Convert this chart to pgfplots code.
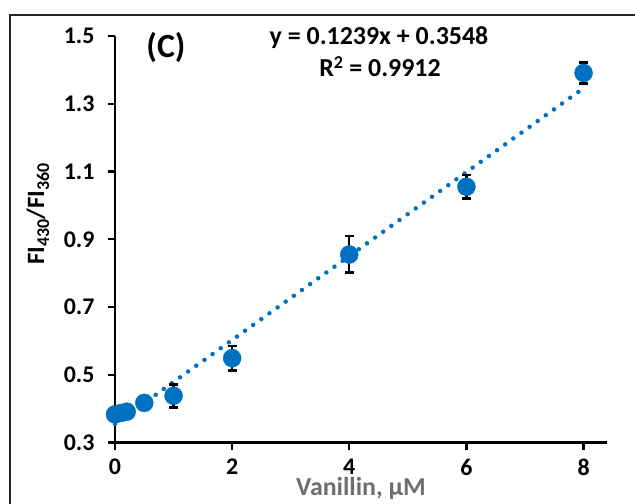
\documentclass[border=0pt]{standalone}
\usepackage{pgfplots}
\pgfplotsset{compat=1.18}
\usepackage{fontspec}
\setmainfont{Carlito}
\definecolor{xlblue}{HTML}{0070C0}
\definecolor{lblgray}{HTML}{6E6E6E}
\newcommand{\sub}[1]{\raisebox{-5bp}{\fontsize{18}{20}\selectfont #1}}
\begin{document}
\begin{tikzpicture}
\path[use as bounding box] (0,0) rectangle (635bp,504bp);
\draw[line width=1.6bp, black!85] (10bp,-5bp) -- (10bp,489bp) -- (640bp,489bp);
\begin{axis}[
  at={(115bp,61.5bp)}, anchor=origin,
  scale only axis,
  width=492bp, height=406.5bp,
  xmin=0, xmax=8.4, ymin=0.3, ymax=1.5,
  axis x line=bottom, axis y line=left,
  axis line style={line width=2.2bp, -},
  xtick={0,2,4,6,8},
  ytick={0.3,0.5,0.7,0.9,1.1,1.3,1.5},
  tick align=outside,
  major tick length=7bp,
  tick style={line width=2.2bp, black},
  /pgf/number format/assume math mode=true,
  yticklabel style={/pgf/number format/fixed, /pgf/number format/fixed zerofill, /pgf/number format/precision=1, xshift=-10bp},
  xticklabel style={yshift=-8bp, inner sep=1bp},
  ticklabel style={font=\bfseries\fontsize{24}{28}\selectfont},
  clip=false,
  xlabel={Vanillin, µM},
  xlabel style={font=\bfseries\fontsize{26}{30}\selectfont, text=lblgray, at={(axis description cs:0.5,0)}, anchor=base, inner sep=0bp, yshift=-53bp},
  ylabel={FI\sub{430}/FI\sub{360}},
  ylabel style={font=\bfseries\fontsize{25}{30}\selectfont, at={(axis description cs:-0.1565,0.562)}, anchor=center},
]
\addplot[xlblue, line width=4.5bp, line cap=round, dash pattern=on 0bp off 10bp, forget plot] coordinates {(0,0.3548) (8,1.346)};
\addplot[only marks, mark=*, mark size=9bp, mark options={fill=xlblue, draw=xlblue},
  error bars/.cd, y dir=both, y explicit,
  error bar style={line width=2.2bp, black},
  error mark options={rotate=90, mark size=4.5bp, line width=2.6bp, black}]
  table[x=x, y=y, y error=e] {
x y e
0 0.383 0.012
0.1 0.387 0.008
0.2 0.391 0.008
0.5 0.417 0.008
1 0.438 0.034
2 0.549 0.036
4 0.855 0.054
6 1.055 0.035
8 1.391 0.031
};
\end{axis}
\node[font=\bfseries\fontsize{34}{38}\selectfont, anchor=center] at (166bp,457bp) {(C)};
\node[font=\bfseries\fontsize{26}{30}\selectfont, anchor=base] at (379bp,459bp) {y = 0.1239x + 0.3548};
\node[font=\bfseries\fontsize{26}{30}\selectfont, anchor=base] at (380bp,427bp) {R\textsuperscript{2} = 0.9912};
\end{tikzpicture}
\end{document}
